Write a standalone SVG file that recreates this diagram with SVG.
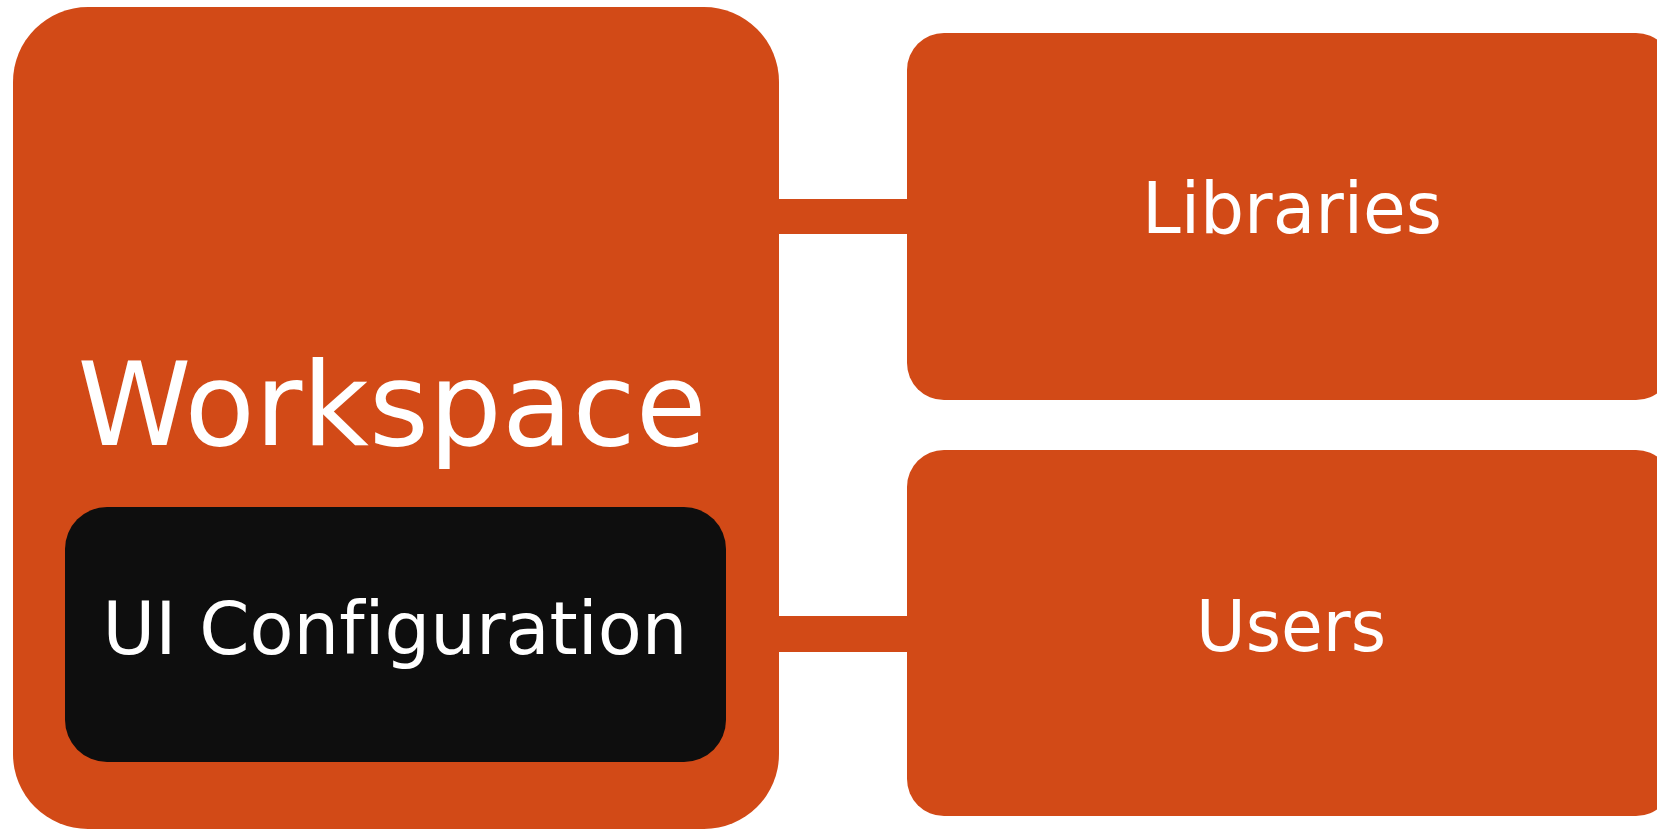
<svg xmlns="http://www.w3.org/2000/svg" width="1657" height="829" viewBox="0 0 1657 829">
<style>
.box{fill:#D24A17}
.inner{fill:#0E0E0E}
.lbl{fill:#FFFFFF;font-family:"DejaVu Sans","Liberation Sans",sans-serif;text-anchor:middle;font-variant-ligatures:none;font-feature-settings:"liga" 0}
</style>
<rect width="1657" height="829" fill="#FFFFFF"/>
<g id="connectors">
<rect class="box" x="770" y="199" width="145" height="35"/>
<rect class="box" x="770" y="616" width="145" height="36"/>
</g>
<g id="workspace">
<rect class="box" x="13" y="7" width="766" height="822" rx="75" ry="75"/>
<text class="lbl" x="392" y="445" font-size="116" textLength="629" lengthAdjust="spacingAndGlyphs">Workspace</text>
</g>
<g id="ui-configuration">
<rect class="inner" x="65" y="507" width="661" height="255" rx="42" ry="42"/>
<text class="lbl" x="395" y="654" font-size="73" textLength="585" lengthAdjust="spacingAndGlyphs">UI Configuration</text>
</g>
<g id="libraries">
<rect class="box" x="907" y="33" width="766" height="367" rx="37" ry="37"/>
<text class="lbl" x="1292" y="233" font-size="71" textLength="300" lengthAdjust="spacingAndGlyphs">Libraries</text>
</g>
<g id="users">
<rect class="box" x="907" y="450" width="766" height="366" rx="37" ry="37"/>
<text class="lbl" x="1291" y="651" font-size="71" textLength="190" lengthAdjust="spacingAndGlyphs">Users</text>
</g>
</svg>
